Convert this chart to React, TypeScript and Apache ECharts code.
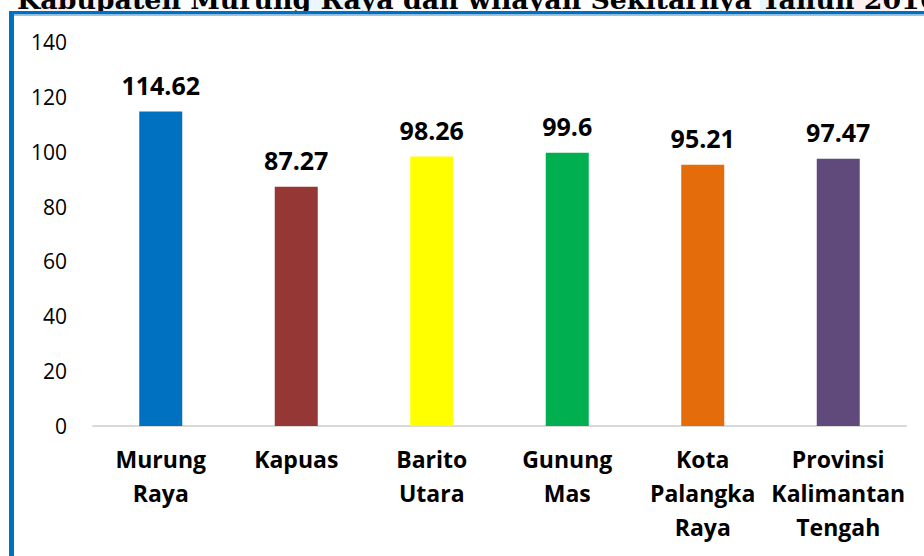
import React, { useEffect, useRef } from "react";
import * as echarts from "echarts";

const categories = ["Murung\nRaya", "Kapuas", "Barito\nUtara", "Gunung\nMas", "Kota\nPalangka\nRaya", "Provinsi\nKalimantan\nTengah"];
const values = [114.62, 87.27, 98.26, 99.6, 95.21, 97.47];
const barColors = ["#0070C0", "#953735", "#FFFF00", "#00B050", "#E46C0A", "#604A7B"];
const yTicks = { min: 0, max: 140, interval: 20 };
const titleText = "Kabupaten Murung Raya dan wilayah Sekitarnya Tahun 2016";

export default function App() {
  const ref = useRef<HTMLDivElement>(null);
  useEffect(() => {
    if (!ref.current) return;
    const chart = echarts.init(ref.current, null, { renderer: "svg" });
    chart.setOption({
      animation: false,
      backgroundColor: "#ffffff",
      grid: { left: 93, right: 18, top: 42, bottom: 130, containLabel: false },
      xAxis: {
        type: "category",
        data: categories,
        axisLine: { show: true, lineStyle: { color: "#D9D9D9", width: 2 } },
        axisTick: { show: false },
        axisLabel: {
          interval: 0,
          margin: 16,
          color: "#000",
          fontFamily: "Open Sans",
          fontWeight: "bold",
          fontSize: 23,
          lineHeight: 34,
        },
      },
      yAxis: {
        type: "value",
        min: yTicks.min,
        max: yTicks.max,
        interval: yTicks.interval,
        splitLine: { show: false },
        axisLine: { show: false },
        axisTick: { show: false },
        axisLabel: {
          margin: 26,
          color: "#000",
          fontFamily: "Open Sans",
          fontSize: 21,
        },
      },
      series: [
        {
          type: "bar",
          barWidth: 43,
          data: values.map((v, i) => ({ value: v, itemStyle: { color: barColors[i] } })),
          label: {
            show: true,
            position: "top",
            distance: 14,
            color: "#000",
            fontFamily: "Open Sans",
            fontWeight: "bold",
            fontSize: 25,
          },
        },
      ],
      graphic: [
        { type: "rect", shape: { x: 40, y: 0, width: 30, height: 11 }, style: { fill: "#FBE3E5", opacity: 0.6 }, z: 0 },
        { type: "rect", shape: { x: 95, y: 0, width: 80, height: 11 }, style: { fill: "#DDF1FB", opacity: 0.7 }, z: 0 },
        { type: "rect", shape: { x: 300, y: 0, width: 90, height: 11 }, style: { fill: "#E3F3FA", opacity: 0.7 }, z: 0 },
        { type: "rect", shape: { x: 760, y: 0, width: 70, height: 11 }, style: { fill: "#DDF1FB", opacity: 0.7 }, z: 0 },
        { type: "rect", shape: { x: 850, y: 0, width: 40, height: 11 }, style: { fill: "#FBE3E5", opacity: 0.6 }, z: 0 },
        {
          type: "text",
          x: 17,
          y: -14,
          z: 10,
          style: {
            text: titleText,
            fill: "#000",
            font: "bold 26.8px 'DejaVu Serif'",
            verticalAlign: "top",
          },
        },
        { type: "rect", shape: { x: 9, y: 11, width: 915, height: 3.5 }, style: { fill: "#0070C0" }, z: 10 },
        { type: "rect", shape: { x: 14, y: 14.5, width: 910, height: 1.5 }, style: { fill: "#9DC3E6" }, z: 10 },
        { type: "rect", shape: { x: 9, y: 11, width: 5, height: 545 }, style: { fill: "#0070C0" }, z: 10 },
      ],
    });
    return () => chart.dispose();
  }, []);
  return <div ref={ref} style={{ position: "fixed", left: 0, top: 0, width: 924, height: 556 }} />;
}
